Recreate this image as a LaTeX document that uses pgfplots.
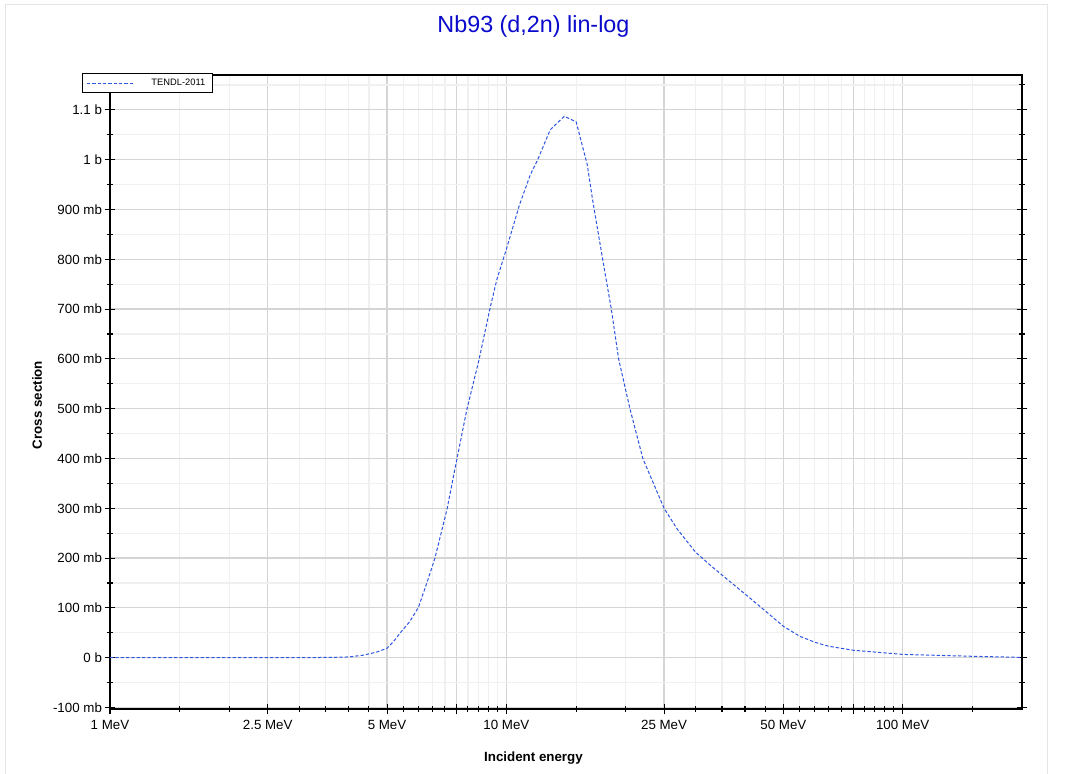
\documentclass[border=0pt]{standalone}
\usepackage{pgfplots}
\pgfplotsset{compat=1.18}
\usepackage{fontspec}
\setmainfont{Liberation Sans}
\definecolor{titleblue}{RGB}{10,10,205}
\definecolor{curveblue}{RGB}{45,85,225}
\begin{document}
\begin{tikzpicture}
\path[use as bounding box] (0,0) rectangle (803.25pt,580.5pt);
\draw[black!10, line width=0.75pt] (3.75pt,-1pt) -- (3.75pt,576.75pt) -- (785.25pt,576.75pt) -- (785.25pt,-1pt);
\begin{axis}[
  at={(82.5pt,48.75pt)}, anchor=south west,
  scale only axis, width=684pt, height=475.5pt,
  xmode=log, xmin=1, xmax=200,
  ymin=-0.103, ymax=1.17,
  axis line style={line width=1pt},
  xtick={1,2.5,5,7.5,10,25,50,75,100},
  xticklabels={1 MeV,2.5 MeV,5 MeV,,10 MeV,25 MeV,50 MeV,,100 MeV},
  minor xtick={1.5,2,3,3.5,4,4.5,5.5,6,6.5,7,8,8.5,9,9.5,15,20,30,35,40,45,55,60,65,70,80,85,90,95,150},
  ytick={-0.1,0,0.1,0.2,0.3,0.4,0.5,0.6,0.7,0.8,0.9,1.0,1.1},
  yticklabels={-100 mb,0 b,100 mb,200 mb,300 mb,400 mb,500 mb,600 mb,700 mb,800 mb,900 mb,1 b,1.1 b},
  minor ytick={-0.05,0.05,0.15,0.25,0.35,0.45,0.55,0.65,0.75,0.85,0.95,1.05,1.15},
  xtick pos=bottom, ytick pos=both,
  tick align=center,
  major tick length=8pt, minor tick length=4pt,
  tick style={black, line width=0.8pt},
  grid=both,
  major grid style={black!17, line width=0.9pt},
  minor grid style={black!6, line width=0.9pt},
  tick label style={font=\fontsize{10}{12}\selectfont},
  yticklabel style={xshift=1.5pt},
  xticklabel style={yshift=-1pt},
  title={Nb93 (d,2n) lin-log},
  title style={font=\fontsize{17.5}{20}\selectfont, text=titleblue, at={(axis description cs:0.5,1)}, anchor=center, yshift=30.75pt, xshift=-24.4pt},
  xlabel={\textbf{Incident energy}},
  xlabel style={font=\fontsize{10}{12}\selectfont, at={(axis description cs:0.5,0)}, anchor=center, yshift=-36.75pt, xshift=-24.4pt},
  ylabel={\textbf{Cross section}},
  ylabel style={font=\fontsize{10}{12}\selectfont, at={(axis description cs:-0.080,0.4795)}, anchor=center},
  legend style={at={(axis description cs:-0.0307,1.003)}, anchor=north west, font=\fontsize{7}{8}\selectfont, draw=black, line width=0.6pt, inner xsep=3pt, inner ysep=2pt, fill=white},
  legend image code/.code={\draw[draw=curveblue, line width=0.8pt, dash pattern=on 2.5pt off 1.5pt] (0pt,0pt) -- (36pt,0pt);},
  legend cell align=left,
]
\addplot[curveblue, line width=0.75pt, dash pattern=on 2.5pt off 1.5pt] coordinates {
(1,0) (2,0) (3,0) (3.6,0.0006) (4,0.0015) (4.35,0.005) (4.7,0.011) (5.0,0.019)
(5.2,0.033) (5.4,0.05) (5.7,0.072) (6.0,0.101) (6.3,0.15) (6.6,0.199) (7.08,0.297)
(7.5,0.398) (7.95,0.498) (8.53,0.598) (9.08,0.699) (9.46,0.759) (10,0.82) (10.8,0.91)
(11.5,0.97) (12.0,1.0) (12.9,1.06) (14.0,1.087) (15.0,1.076) (16.0,0.99) (16.5,0.92)
(17.5,0.80) (18.4,0.70) (19.2,0.60) (20.5,0.50) (22.1,0.40) (25,0.30) (27,0.258)
(30,0.212) (33,0.183) (36,0.158) (40,0.128) (45,0.094) (50,0.063) (55,0.043) (60,0.031)
(65,0.023) (75,0.015) (100,0.0066) (150,0.0028) (200,0.0006)
};
\addlegendentry{\hspace{10pt}TENDL-2011\hspace{8pt}}
\end{axis}
\end{tikzpicture}
\end{document}
